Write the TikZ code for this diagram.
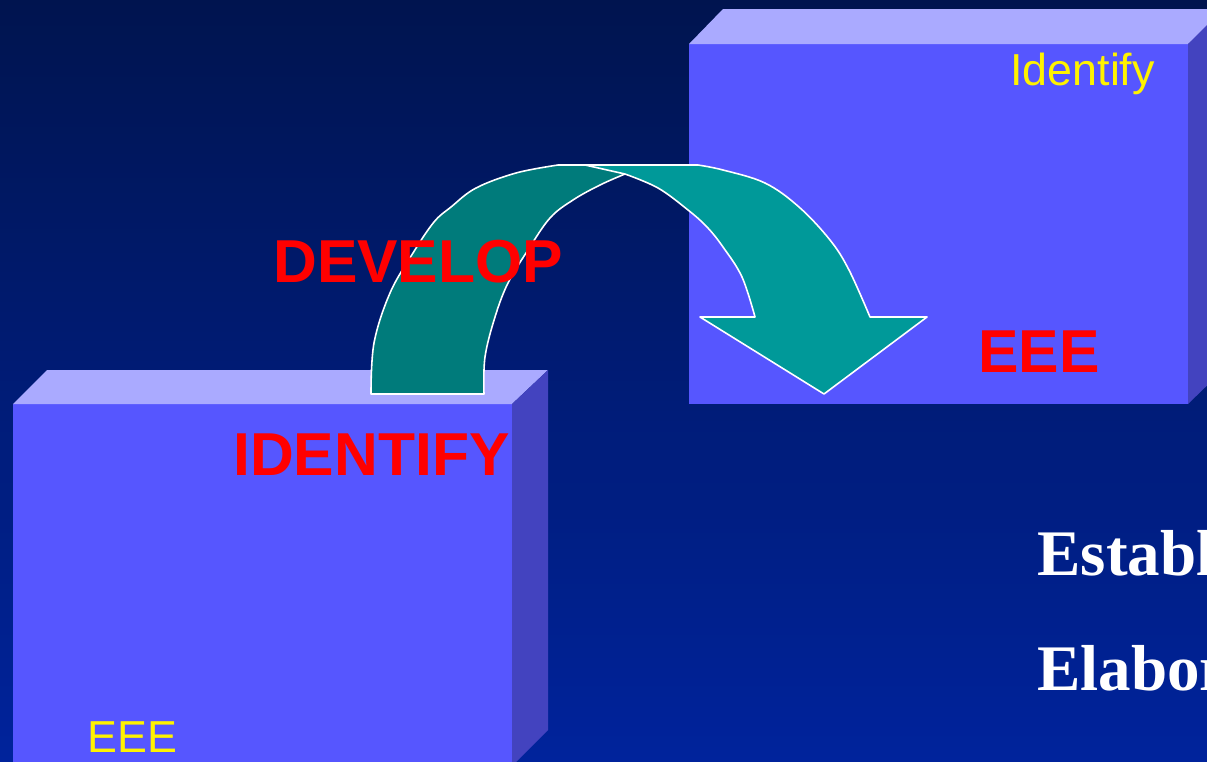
\documentclass[tikz,border=0pt]{standalone}
\usepackage{fontspec}
\setmainfont{Liberation Sans}
\newfontfamily\serifbold{Liberation Serif}
\definecolor{bgtop}{HTML}{00144F}
\definecolor{bgbot}{HTML}{00239C}
\definecolor{boxfront}{HTML}{5656FF}
\definecolor{boxtop}{HTML}{AAAAFF}
\definecolor{boxside}{HTML}{4343BF}
\definecolor{tealdark}{HTML}{007B7B}
\definecolor{teallight}{HTML}{009999}
\tikzset{
  front/.style={fill=boxfront},
  topface/.style={fill=boxtop},
  sideface/.style={fill=boxside},
  ribbon/.style={draw=white, line width=0.9pt, line join=round},
  lbl/.style={inner sep=0pt, anchor=base west},
  redbig/.style={lbl, text=red, font=\fontsize{34.5pt}{40pt}\selectfont\bfseries},
  yellowtxt/.style={lbl, text=yellow, font=\fontsize{25.5pt}{30pt}\selectfont},
  whiteserif/.style={lbl, text=white, font=\serifbold\fontsize{37pt}{42pt}\selectfont\bfseries},
}
\begin{document}
\begin{tikzpicture}[x=0.02cm,y=-0.02cm]
\useasboundingbox (0,0) rectangle (1207,761);
\clip (0,0) rectangle (1207,761);
\shade[top color=bgtop, bottom color=bgbot] (0,0) rectangle (1207,761);
% left box
\path[front] (13,404) rectangle (512,770);
\path[topface] (13,404) -- (47,370) -- (548,370) -- (512,404) -- cycle;
\path[sideface] (512,404) -- (548,370) -- (548,730) -- (512,766) -- cycle;
% right box
\path[front] (689,44) rectangle (1188,404);
\path[topface] (689,44) -- (723,9) -- (1230,9) -- (1188,44) -- cycle;
\path[sideface] (1188,44) -- (1223,9) -- (1223,370) -- (1188,404) -- cycle;
% arrow, back (dark) part
\draw[ribbon, fill=tealdark]
  plot[smooth, tension=0.6] coordinates {(371,394) (374,343) (390,293) (413,253) (434,222) (451,207) (476,188) (516,173) (558,165)}
  -- (600,165)
  -- plot[smooth, tension=0.6] coordinates {(625,174) (600,185) (573,200) (550,218) (528,250) (508,283) (495,317) (485,357) (484,394)}
  -- cycle;
% arrow, front (light) part
\draw[ribbon, fill=teallight] (585,165)
  -- plot[smooth, tension=0.6] coordinates {(698,165) (723,170) (765,183) (799,207) (830,240) (849,270) (870,317)}
  -- (927,317) -- (824,394) -- (700,317)
  -- plot[smooth, tension=0.6] coordinates {(755,317) (742,277) (723,247) (707,227) (688,210) (658,188) (625,174)}
  -- cycle;
% texts
\node[yellowtxt] (identifysmall) at (1010,85) {Identify};
\node[redbig] (eeeright) at (978,372) {EEE};
\node[redbig] (develop) at (273,282) {DEVELOP};
\node[redbig] (identifybig) at (233,475) {IDENTIFY};
\node[yellowtxt] (eeeleft) at (87,752) {EEE};
\node[whiteserif] (establ) at (1037,575) {Establ};
\node[whiteserif] (elabor) at (1037,690) {Elabor};
\end{tikzpicture}
\end{document}
